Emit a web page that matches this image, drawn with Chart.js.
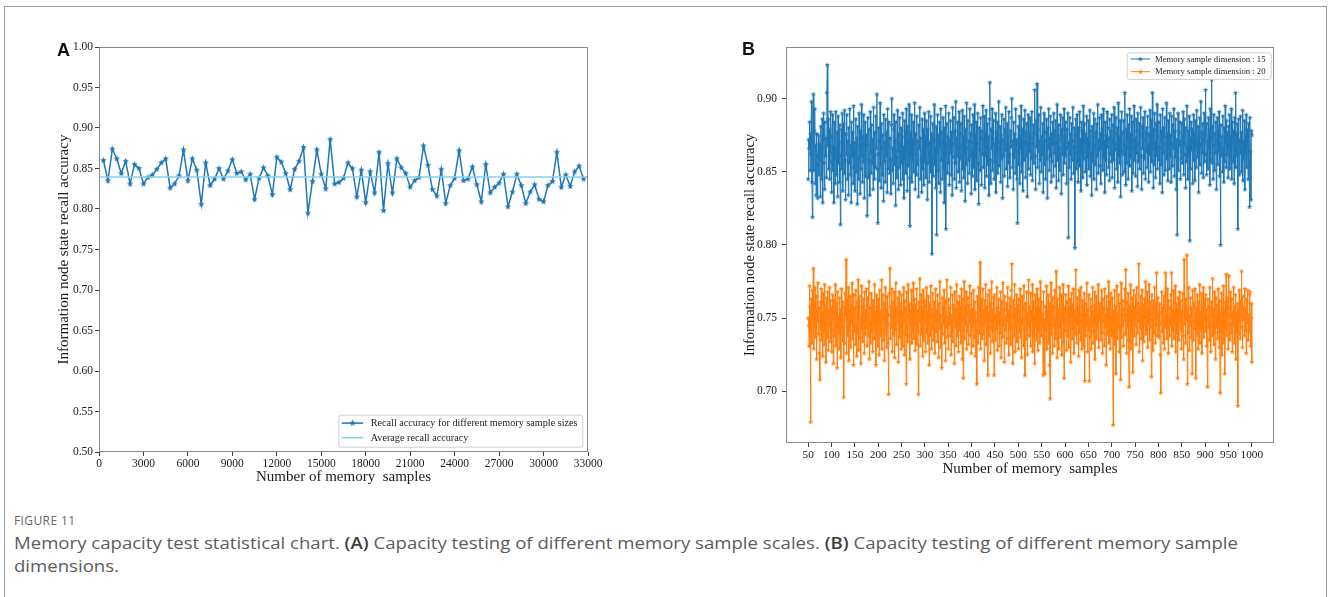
<!DOCTYPE html>
<html>
<head>
<meta charset="utf-8">
<script src="https://cdn.jsdelivr.net/npm/chart.js@4.4.1/dist/chart.umd.min.js"></script>
<style>
  html, body { margin: 0; padding: 0; background: #fff; }
  body { position: relative; width: 1328px; height: 597px; overflow: hidden; }
  .frame { position: absolute; left: 4px; top: 6px; width: 1323px; height: 640px; box-sizing: border-box; border: 1px solid #a0a0a0; }
  canvas { position: absolute; top: 0; }
  #chartA { left: 54px; }
  #chartB { left: 741px; }
  .panel { position: absolute; font: bold 18px 'Liberation Sans', Arial, sans-serif; color: #111; line-height: 18px; }
  .cap { position: absolute; left: 14px; white-space: nowrap; transform-origin: left center;
         font-family: 'Open Sans', 'Noto Sans', sans-serif; color: #5c5c5c; }
  .capline { font-size: 17px; line-height: 23px; }
  .capline b { color: #3c3c3c; font-weight: 600; }
  #figno { font-size: 12px; line-height: 15px; top: 513px; color: #666; letter-spacing: 0.4px; }
</style>
</head>
<body>
<div class="frame"></div>
<canvas id="chartA" width="560" height="490"></canvas>
<canvas id="chartB" width="559" height="482"></canvas>
<div class="panel" style="left:57px;top:41px">A</div>
<div class="panel" style="left:742px;top:40px">B</div>
<div class="cap" id="figno">FIGURE 11</div>
<div class="cap capline" style="top:531px">Memory capacity test statistical chart. <b>(A)</b> Capacity testing of different memory sample scales. <b>(B)</b> Capacity testing of different memory sample</div>
<div class="cap capline" style="top:554px">dimensions.</div>
<script>
'use strict';

// ---- panel A : recall accuracy vs number of memory samples ----
var sampleStepA = 300;
var recallA = [
  0.860, 0.835, 0.874, 0.862, 0.844, 0.859, 0.831, 0.855, 0.850, 0.831,
  0.839, 0.842, 0.849, 0.857, 0.862, 0.826, 0.831, 0.841, 0.873, 0.835,
  0.862, 0.848, 0.806, 0.857, 0.829, 0.837, 0.850, 0.837, 0.847, 0.861,
  0.844, 0.846, 0.836, 0.843, 0.812, 0.838, 0.851, 0.841, 0.818, 0.864,
  0.858, 0.844, 0.824, 0.849, 0.859, 0.876, 0.795, 0.834, 0.873, 0.843,
  0.825, 0.886, 0.831, 0.833, 0.838, 0.857, 0.850, 0.815, 0.848, 0.808,
  0.846, 0.820, 0.870, 0.798, 0.856, 0.820, 0.862, 0.851, 0.844, 0.827,
  0.835, 0.839, 0.878, 0.854, 0.824, 0.816, 0.849, 0.807, 0.829, 0.838,
  0.872, 0.835, 0.837, 0.852, 0.830, 0.809, 0.855, 0.820, 0.827, 0.832,
  0.843, 0.803, 0.821, 0.843, 0.829, 0.807, 0.821, 0.830, 0.812, 0.809,
  0.829, 0.834, 0.870, 0.827, 0.842, 0.828, 0.846, 0.853, 0.837
];
var avgRecallA = 0.8395;
var xTicksA = [0, 3000, 6000, 9000, 12000, 15000, 18000, 21000, 24000, 27000, 30000, 33000];
var yTicksA = [0.50, 0.55, 0.60, 0.65, 0.70, 0.75, 0.80, 0.85, 0.90, 0.95, 1.00];
var labelsA = ['Recall accuracy for different memory sample sizes', 'Average recall accuracy'];

// ---- panel B : recall accuracy per sample count, two dimensions ----
// values in thousandths (845 = 0.845), one per sample count 50..1000
var firstSampleB = 50;
var dim15 = [
  845,872,866,884,851,876,862,898,843,819,870,903,851,878,893,842,868,834,876,855,832,861,875,848,869,
  858,833,881,866,845,886,829,872,890,856,838,884,861,873,846,904,923,868,886,852,879,845,863,891,857,
  836,874,889,851,867,829,884,859,842,891,865,848,877,833,888,856,870,843,882,814,861,879,852,890,837,
  866,883,849,892,858,831,876,862,889,845,871,834,880,856,893,848,868,829,884,861,877,842,895,853,870,
  837,864,886,850,873,828,881,859,845,890,867,835,878,852,896,861,843,874,857,889,832,869,884,847,872,
  875,820,868,887,846,879,858,834,891,863,849,882,856,872,838,894,861,845,877,853,888,866,903,852,815,
  862,880,844,871,897,855,839,883,866,848,875,830,889,857,870,843,886,861,877,836,893,852,868,884,849,
  873,858,835,882,900,851,866,842,879,889,855,871,827,884,860,846,892,864,838,876,853,887,869,841,880,
  856,874,890,845,867,832,885,859,878,849,893,863,837,881,854,870,896,846,813,877,861,889,843,872,858,
  884,850,869,897,838,876,862,848,888,855,871,833,882,866,894,845,873,859,836,886,852,879,864,841,890,
  857,874,846,885,868,831,879,856,891,843,870,862,888,850,876,794,859,883,847,872,896,855,866,839,881,
  807,863,889,851,875,842,884,867,836,893,858,877,845,870,887,853,829,880,862,895,811,868,883,849,874,
  856,890,841,872,863,885,848,877,834,894,860,869,887,845,878,856,898,839,873,861,884,850,867,891,843,
  876,859,883,837,868,892,852,874,846,888,863,830,879,855,897,866,842,885,858,871,849,893,861,876,835,
  882,864,847,889,870,853,896,838,875,860,884,844,869,890,856,828,880,865,851,887,873,841,878,862,895,
  853,871,888,839,876,861,892,847,867,883,855,874,834,886,911,858,842,879,866,893,851,872,885,845,869,
  857,890,836,877,863,884,849,870,898,854,866,881,843,875,859,889,832,872,861,886,847,879,865,894,852,
  868,883,840,875,856,891,862,846,878,867,887,900,853,871,838,884,860,876,849,893,864,872,845,815,869,
  881,855,888,842,874,866,895,850,863,879,837,886,858,870,892,846,877,861,883,833,869,889,852,875,864,
  887,848,873,859,891,844,869,882,856,876,906,861,838,885,867,910,853,879,864,889,842,871,858,894,850,
  874,862,883,836,868,890,855,877,845,871,886,859,832,880,866,893,851,873,861,888,843,876,857,884,869,
  847,890,863,878,854,885,839,870,896,858,875,844,882,866,851,889,872,835,879,862,887,848,868,893,856,
  874,861,884,842,879,866,890,805,870,853,887,862,876,845,883,858,871,894,849,867,880,798,863,886,852,
  875,889,857,843,880,866,891,854,872,837,884,862,878,846,895,859,870,883,850,876,864,888,841,873,860,
  885,852,869,892,847,878,863,834,881,857,874,890,845,868,886,855,877,838,883,861,896,849,872,865,887,
  854,876,842,889,866,879,851,893,860,871,836,884,858,875,848,891,867,880,853,873,844,886,862,878,857,
  889,846,871,882,858,894,839,876,865,887,852,869,880,843,897,861,874,856,885,833,870,891,864,848,877,
  862,885,850,904,868,841,879,856,889,872,845,882,866,893,854,876,860,888,837,871,884,849,867,895,858,
  873,847,886,863,878,840,890,857,869,883,852,875,894,861,838,881,866,887,849,872,859,891,845,877,864,
  880,853,888,868,843,876,862,892,850,873,885,857,904,866,839,879,855,890,870,846,883,861,896,852,874,
  858,884,867,842,889,871,855,878,836,893,863,880,848,874,887,851,869,897,859,876,844,885,866,852,890,
  861,875,843,888,869,854,882,866,893,847,878,860,886,838,872,807,864,890,851,877,868,884,845,871,859,
  883,856,874,891,848,869,886,862,839,880,857,895,867,845,878,861,888,803,873,852,884,865,879,842,870,
  889,858,876,844,885,867,853,892,871,860,881,836,874,887,855,869,898,849,877,863,883,846,872,890,857,
  875,906,862,848,883,870,852,887,866,879,841,893,858,873,913,856,881,845,868,889,851,876,863,884,838,
  872,887,855,878,864,891,847,869,800,882,861,874,850,888,866,843,880,857,895,871,853,885,862,877,846,
  881,866,889,852,874,860,893,845,870,884,857,878,842,887,865,904,853,876,861,883,811,869,886,848,872,
  863,888,850,877,866,892,844,871,859,885,838,874,862,889,853,879,868,845,883,856,826,887,864,831,878,
  875
];
var dim20 = [
  750,745,731,772,758,679,741,763,733,769,752,784,729,760,744,771,737,756,722,765,748,774,739,757,726,
  708,761,743,770,735,753,724,767,746,732,773,741,759,720,764,750,737,768,728,755,745,771,734,762,742,
  757,727,766,749,719,762,738,754,773,731,745,760,716,768,743,751,729,764,740,756,723,770,747,735,761,
  744,696,758,733,767,752,790,726,749,763,738,771,721,755,742,765,730,759,747,774,736,752,718,766,741,
  757,732,769,745,724,761,740,776,728,753,765,737,750,719,772,743,758,734,763,748,726,768,739,755,744,
  770,731,752,764,738,775,722,757,746,733,767,741,759,727,762,749,736,773,744,754,718,766,740,758,731,
  763,747,725,769,738,755,742,776,729,751,766,735,760,721,749,771,739,756,730,765,746,733,698,752,767,
  784,736,758,744,770,727,761,750,739,768,723,755,742,774,732,757,747,764,720,753,768,737,760,745,729,
  766,741,754,731,771,748,725,762,739,757,705,768,744,734,773,751,738,760,722,755,746,769,733,758,741,
  774,736,752,763,728,759,745,770,732,755,741,698,761,748,777,731,753,766,739,757,724,769,746,735,762,
  749,727,758,771,740,754,733,765,746,718,760,751,738,772,729,756,743,767,735,752,761,726,748,770,741,
  755,734,766,749,723,760,743,775,730,752,745,716,764,739,757,747,769,733,754,721,762,744,776,737,751,
  729,763,746,757,738,771,725,752,741,766,734,759,749,719,768,744,756,731,773,747,738,761,727,754,765,
  742,758,733,770,748,722,763,709,751,775,736,757,745,768,729,753,741,764,732,759,747,772,738,755,726,
  767,744,756,731,769,750,737,761,724,754,742,705,765,748,733,771,740,757,788,729,752,763,736,746,770,
  739,755,721,762,747,773,732,758,744,766,711,753,738,769,749,726,760,743,775,734,756,741,764,711,750,
  766,735,752,743,771,728,757,746,763,731,754,740,768,723,749,761,737,774,745,756,720,765,742,751,733,
  760,748,771,736,755,725,764,743,758,732,769,787,745,719,762,751,738,773,727,756,744,766,734,759,748,
  729,763,741,754,770,737,749,723,765,746,757,731,772,743,711,760,750,736,768,725,753,745,776,738,758,
  742,767,731,755,748,773,727,761,739,752,719,766,744,757,735,770,750,728,763,741,756,733,775,747,738,
  761,744,753,711,768,737,749,712,758,742,772,729,755,746,766,733,760,718,695,751,774,739,757,726,764,
  745,758,731,769,750,736,782,747,723,763,740,756,729,771,744,752,737,766,725,760,748,773,734,709,757,
  741,766,749,728,761,738,754,772,730,757,745,763,720,752,767,736,759,743,770,726,755,748,739,783,751,
  733,764,746,757,724,769,740,752,735,771,748,729,762,744,758,731,767,707,753,738,760,745,774,727,756,
  742,766,707,750,737,763,729,758,745,771,733,754,741,768,722,759,747,765,736,752,744,773,730,757,749,
  760,735,754,769,740,726,763,748,757,731,770,744,752,718,765,739,756,746,775,733,761,742,729,767,751,
  738,764,747,677,755,741,769,732,758,712,749,772,736,753,744,766,727,760,743,708,774,737,752,745,762,
  731,756,748,770,739,783,752,726,761,744,767,735,703,758,749,773,729,755,741,764,713,750,769,738,757,
  745,766,732,754,771,740,760,748,787,727,757,743,765,736,752,769,721,759,746,734,763,750,775,739,755,
  742,768,730,756,747,773,735,761,744,753,710,766,749,728,762,740,757,771,733,759,745,781,738,752,764,
  751,737,760,746,725,699,754,768,741,757,733,765,748,729,759,781,744,752,736,770,743,726,762,749,738,
  757,745,766,781,731,755,742,769,736,753,747,772,727,760,740,756,709,764,748,735,768,751,743,762,729,
  754,741,767,738,722,790,746,758,733,763,749,793,705,756,740,771,728,752,745,764,737,757,712,769,748,
  735,760,743,770,752,709,757,739,766,745,729,761,748,773,733,754,742,767,726,759,744,771,737,750,763,
  741,766,749,731,756,703,763,744,758,735,771,747,727,761,752,738,777,745,756,732,768,740,722,764,751,
  744,759,736,770,748,730,762,699,753,741,767,725,757,746,772,733,755,712,761,743,780,738,752,764,729,
  757,779,746,735,768,751,740,763,727,754,745,771,733,758,748,766,722,753,741,760,690,756,739,769,748,
  736,762,751,782,744,730,765,749,757,738,770,742,755,726,763,747,769,735,752,741,766,768,731,750,760,
  720
];
var xTicksB = [50, 100, 150, 200, 250, 300, 350, 400, 450, 500, 550, 600, 650, 700, 750, 800, 850, 900, 950, 1000];
var yTicksB = [0.70, 0.75, 0.80, 0.85, 0.90];
var labelsB = ['Memory sample dimension : 15', 'Memory sample dimension : 20'];

var blue = '#1f77b4';
var orange = '#ff7f0e';
var sky = '#87ceeb';

Chart.defaults.font.family = "'Liberation Serif', 'Times New Roman', serif";
Chart.defaults.color = '#1a1a1a';

// matplotlib style filled 5-point star, used as point image
function starImage(color, r) {
  var s = Math.ceil(r * 2 + 2);
  var c = document.createElement('canvas');
  c.width = s; c.height = s;
  var g = c.getContext('2d');
  g.fillStyle = color;
  g.beginPath();
  for (var k = 0; k < 10; k++) {
    var rad = k % 2 ? r * 0.42 : r;
    var a = -Math.PI / 2 + k * Math.PI / 5;
    g.lineTo(s / 2 + rad * Math.cos(a), s / 2 + rad * Math.sin(a));
  }
  g.closePath();
  g.fill();
  return c;
}

// box around the whole plot area
var plotFrame = {
  id: 'plotFrame',
  afterDraw: function (chart) {
    var a = chart.chartArea, ctx = chart.ctx;
    ctx.save();
    ctx.strokeStyle = '#8a8a8a';
    ctx.lineWidth = 1;
    ctx.strokeRect(Math.round(a.left) + 0.5, Math.round(a.top) + 0.5,
                   Math.round(a.right - a.left) - 1, Math.round(a.bottom - a.top) - 1);
    ctx.restore();
  }
};

// legend drawn inside the plot like matplotlib
var boxLegend = {
  id: 'boxLegend',
  afterDraw: function (chart, args, o) {
    var a = chart.chartArea, ctx = chart.ctx;
    var x = a.right - o.inset[0] - o.width;
    var y = o.bottom ? a.bottom - o.inset[1] - o.height : a.top + o.inset[1];
    ctx.save();
    ctx.fillStyle = 'rgba(255,255,255,0.85)';
    ctx.strokeStyle = '#cfcfcf';
    ctx.lineWidth = 1;
    ctx.beginPath();
    ctx.roundRect(x + 0.5, y + 0.5, o.width, o.height, 2);
    ctx.fill();
    ctx.stroke();
    ctx.font = o.fontSize + "px 'Liberation Serif', serif";
    ctx.textBaseline = 'middle';
    ctx.fillStyle = '#222';
    chart.data.datasets.forEach(function (ds, i) {
      var cy = y + o.firstRow + i * o.rowGap;
      ctx.strokeStyle = ds.borderColor;
      ctx.lineWidth = ds.borderWidth;
      ctx.beginPath();
      ctx.moveTo(x + o.lineX[0], cy);
      ctx.lineTo(x + o.lineX[1], cy);
      ctx.stroke();
      if (ds.pointRadius > 0 && ds.pointStyle) {
        var img = ds.pointStyle;
        ctx.drawImage(img, x + (o.lineX[0] + o.lineX[1]) / 2 - img.width / 2, cy - img.height / 2);
      }
      ctx.fillStyle = '#222';
      ctx.fillText(ds.label, x + o.textX, cy + 0.5);
    });
    ctx.restore();
  }
};

function axisGrid() {
  return { drawOnChartArea: false, drawTicks: true, tickLength: 4, tickColor: '#3a3a3a', color: '#3a3a3a' };
}

// ---- chart A ----
var sampleSizesA = recallA.map(function (_, i) { return sampleStepA * (i + 1); });

new Chart(document.getElementById('chartA'), {
  type: 'line',
  data: {
    datasets: [{
      label: labelsA[0],
      data: recallA.map(function (v, i) { return { x: sampleSizesA[i], y: v }; }),
      borderColor: blue,
      backgroundColor: blue,
      borderWidth: 1.5,
      pointStyle: starImage(blue, 3.4),
      pointRadius: 3,
      tension: 0,
      order: 1
    }, {
      label: labelsA[1],
      data: [{ x: xTicksA[0], y: avgRecallA }, { x: xTicksA[xTicksA.length - 1], y: avgRecallA }],
      borderColor: sky,
      borderWidth: 1.5,
      pointRadius: 0,
      order: 0
    }]
  },
  options: {
    responsive: false,
    animation: false,
    events: [],
    layout: { padding: { top: 47, right: 26, bottom: 0, left: 0 } },
    plugins: {
      legend: { display: false },
      tooltip: { enabled: false },
      boxLegend: { bottom: true, inset: [5.7, 5.3], width: 244, height: 32, firstRow: 8.4, rowGap: 14.6,
                   lineX: [3.4, 25], textX: 32.4, fontSize: 10.2 }
    },
    scales: {
      x: {
        type: 'linear', min: xTicksA[0], max: xTicksA[xTicksA.length - 1],
        afterBuildTicks: function (s) { s.ticks = xTicksA.map(function (v) { return { value: v }; }); },
        afterFit: function (s) { s.height = 38; },
        grid: axisGrid(),
        border: { display: false },
        ticks: { font: { size: 11.5 }, padding: 1, maxRotation: 0, autoSkip: false,
                 callback: function (v) { return String(v); } },
        title: { display: true, text: 'Number of memory  samples', font: { size: 15 }, padding: { top: 0, bottom: 4 } }
      },
      y: {
        type: 'linear', min: yTicksA[0], max: yTicksA[yTicksA.length - 1],
        afterBuildTicks: function (s) { s.ticks = yTicksA.map(function (v) { return { value: v }; }); },
        afterFit: function (s) { s.width = 45; },
        grid: axisGrid(),
        border: { display: false },
        ticks: { font: { size: 11.5 }, padding: 2, callback: function (v) { return v.toFixed(2); } },
        title: { display: true, text: 'Information node state recall accuracy', font: { size: 15 }, padding: { top: 1, bottom: 0 } }
      }
    }
  },
  plugins: [plotFrame, boxLegend]
});

// ---- chart B ----
var sampleSizesB = dim15.map(function (_, i) { return firstSampleB + i; });

function seriesB(vals, color, label) {
  return {
    label: label,
    data: vals.map(function (v, i) { return { x: sampleSizesB[i], y: v / 1000 }; }),
    borderColor: color,
    backgroundColor: color,
    borderWidth: 1,
    pointStyle: starImage(color, 2.7),
    pointRadius: 2.5,
    tension: 0
  };
}

new Chart(document.getElementById('chartB'), {
  type: 'line',
  data: { datasets: [seriesB(dim15, blue, labelsB[0]), seriesB(dim20, orange, labelsB[1])] },
  options: {
    responsive: false,
    animation: false,
    events: [],
    layout: { padding: { top: 47, right: 26, bottom: 0, left: 0 } },
    plugins: {
      legend: { display: false },
      tooltip: { enabled: false },
      boxLegend: { bottom: false, inset: [3.3, 5.4], width: 144, height: 26.5, firstRow: 6.6, rowGap: 12.7,
                   lineX: [4, 23.3], textX: 28.3, fontSize: 8.7 }
    },
    scales: {
      x: {
        type: 'linear', min: 2.5, max: 1047.5,
        afterBuildTicks: function (s) { s.ticks = xTicksB.map(function (v) { return { value: v }; }); },
        afterFit: function (s) { s.height = 39; },
        grid: axisGrid(),
        border: { display: false },
        ticks: { font: { size: 11.3 }, padding: 1, maxRotation: 0, autoSkip: false,
                 callback: function (v) { return String(v); } },
        title: { display: true, text: 'Number of memory  samples', font: { size: 15 }, padding: { top: 0, bottom: 4 } }
      },
      y: {
        type: 'linear', min: 0.6647, max: 0.9353,
        afterBuildTicks: function (s) { s.ticks = yTicksB.map(function (v) { return { value: v }; }); },
        afterFit: function (s) { s.width = 45; },
        grid: axisGrid(),
        border: { display: false },
        ticks: { font: { size: 11.5 }, padding: 5, callback: function (v) { return v.toFixed(2); } },
        title: { display: true, text: 'Information node state recall accuracy', font: { size: 14.5 }, padding: { top: 0, bottom: 0 } }
      }
    }
  },
  plugins: [plotFrame, boxLegend]
});

// caption: stretch the condensed figure caption to its printed width
var capLines = document.querySelectorAll('.capline');
var k = 1224 / capLines[0].getBoundingClientRect().width;
capLines.forEach(function (el) { el.style.transform = 'scaleX(' + k + ')'; });
</script>
</body>
</html>
